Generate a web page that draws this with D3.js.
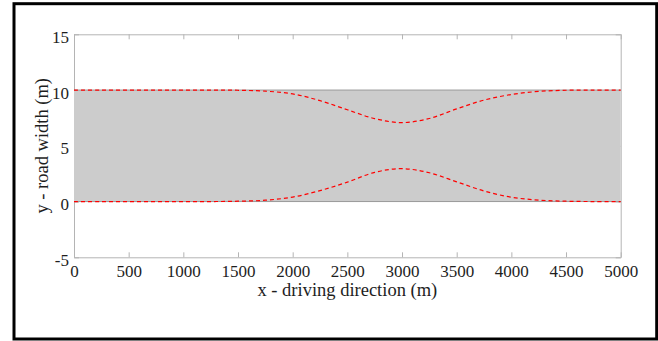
<!DOCTYPE html>
<html>
<head>
<meta charset="utf-8">
<script src="https://cdn.jsdelivr.net/npm/d3@7"></script>
<style>
  html, body { margin: 0; padding: 0; background: #fff; }
  svg { display: block; }
</style>
</head>
<body>
<div id="chart"></div>
<script>
// --- DATA ---
const X_POS = [0, 250, 500, 750, 1000, 1250, 1500, 1750, 2000, 2250, 2500,
               2750, 3000, 3250, 3500, 3750, 4000, 4250, 4500, 4750, 5000];
const LOWER_EDGE = [0, 0, 0, 0, 0, 0, 0.03, 0.12, 0.40, 0.98, 1.74,
                    2.62, 2.95, 2.58, 1.77, 0.95, 0.39, 0.13, 0.03, 0, 0];
const UPPER_EDGE = [10, 10, 10, 10, 10, 10, 9.98, 9.9, 9.65, 9.05, 8.23,
                    7.44, 7.08, 7.45, 8.31, 9.1, 9.6, 9.88, 9.98, 10, 10];
const ROAD_BOTTOM = 0;
const ROAD_TOP = 10;
const X_TICKS = [0, 500, 1000, 1500, 2000, 2500, 3000, 3500, 4000, 4500, 5000];
const Y_TICKS = [-5, 0, 5, 10, 15];

// --- CONFIG ---
const WIDTH = 658, HEIGHT = 341;
const PLOT = { left: 74, right: 620.7, top: 34.3, bottom: 257.3 };
const FONT = "'Liberation Serif', 'Times New Roman', serif";
const AXIS_COLOR = "#b4b4b4";
const TEXT_COLOR = "#1e1e1e";
const plain = d => String(d);   // no thousands separators, ascii minus

const svg = d3.select("#chart").append("svg")
    .attr("width", WIDTH)
    .attr("height", HEIGHT)
    .style("font-family", FONT);

// outer frame
svg.append("rect")
    .attr("x", 14).attr("y", 3.7)
    .attr("width", 642.7).attr("height", 335.3)
    .attr("fill", "none")
    .attr("stroke", "#000")
    .attr("stroke-width", 3);

const x = d3.scaleLinear().domain([0, 5000]).range([PLOT.left, PLOT.right]);
const y = d3.scaleLinear().domain([-5, 15]).range([PLOT.bottom, PLOT.top]);

// axes (box with inward ticks)
function styleAxis(g, showText) {
    g.select(".domain").attr("stroke", AXIS_COLOR);
    g.selectAll(".tick line").attr("stroke", AXIS_COLOR);
    g.selectAll(".tick text")
        .attr("fill", TEXT_COLOR)
        .style("font-size", "17px")
        .style("font-family", FONT);
    if (!showText) g.selectAll(".tick text").remove();
}

svg.append("g")
    .attr("transform", `translate(0,${PLOT.bottom})`)
    .call(d3.axisBottom(x).tickValues(X_TICKS).tickFormat(plain)
        .tickSizeInner(-5).tickSizeOuter(0).tickPadding(8))
    .call(g => styleAxis(g, true));

svg.append("g")
    .attr("transform", `translate(0,${PLOT.top})`)
    .call(d3.axisTop(x).tickValues(X_TICKS).tickSizeInner(-5).tickSizeOuter(0))
    .call(g => styleAxis(g, false));

svg.append("g")
    .attr("transform", `translate(${PLOT.left},0)`)
    .call(d3.axisLeft(y).tickValues(Y_TICKS).tickFormat(plain)
        .tickSizeInner(-5).tickSizeOuter(0).tickPadding(5))
    .call(g => styleAxis(g, true))
    .call(g => g.selectAll(".tick text").attr("dy", "0.47em"));

svg.append("g")
    .attr("transform", `translate(${PLOT.right},0)`)
    .call(d3.axisRight(y).tickValues(Y_TICKS).tickSizeInner(-5).tickSizeOuter(0))
    .call(g => styleAxis(g, false));

// road surface
svg.append("rect")
    .attr("x", x(0))
    .attr("y", y(ROAD_TOP))
    .attr("width", x(5000) - x(0))
    .attr("height", y(ROAD_BOTTOM) - y(ROAD_TOP))
    .attr("fill", "#cccccc");

// road edges
[ROAD_BOTTOM, ROAD_TOP].forEach(v => {
    svg.append("line")
        .attr("x1", x(0)).attr("x2", x(5000))
        .attr("y1", y(v)).attr("y2", y(v))
        .attr("stroke", "#9a9a9a")
        .attr("stroke-width", 1);
});

// dashed lane boundaries
const line = d3.line()
    .x(d => x(d[0]))
    .y(d => y(d[1]))
    .curve(d3.curveCatmullRom.alpha(0.5));

[LOWER_EDGE, UPPER_EDGE].forEach(vals => {
    svg.append("path")
        .datum(X_POS.map((xv, i) => [xv, vals[i]]))
        .attr("d", line)
        .attr("fill", "none")
        .attr("stroke", "#ff0000")
        .attr("stroke-width", 1.2)
        .attr("stroke-dasharray", "4,3");
});

// axis titles
svg.append("text")
    .attr("x", (PLOT.left + PLOT.right) / 2)
    .attr("y", 296)
    .attr("text-anchor", "middle")
    .attr("fill", TEXT_COLOR)
    .style("font-size", "18.5px")
    .text("x - driving direction (m)");

svg.append("text")
    .attr("transform", `translate(48,${(PLOT.top + PLOT.bottom) / 2}) rotate(-90)`)
    .attr("text-anchor", "middle")
    .attr("fill", TEXT_COLOR)
    .style("font-size", "18.5px")
    .text("y - road width (m)");
</script>
</body>
</html>
